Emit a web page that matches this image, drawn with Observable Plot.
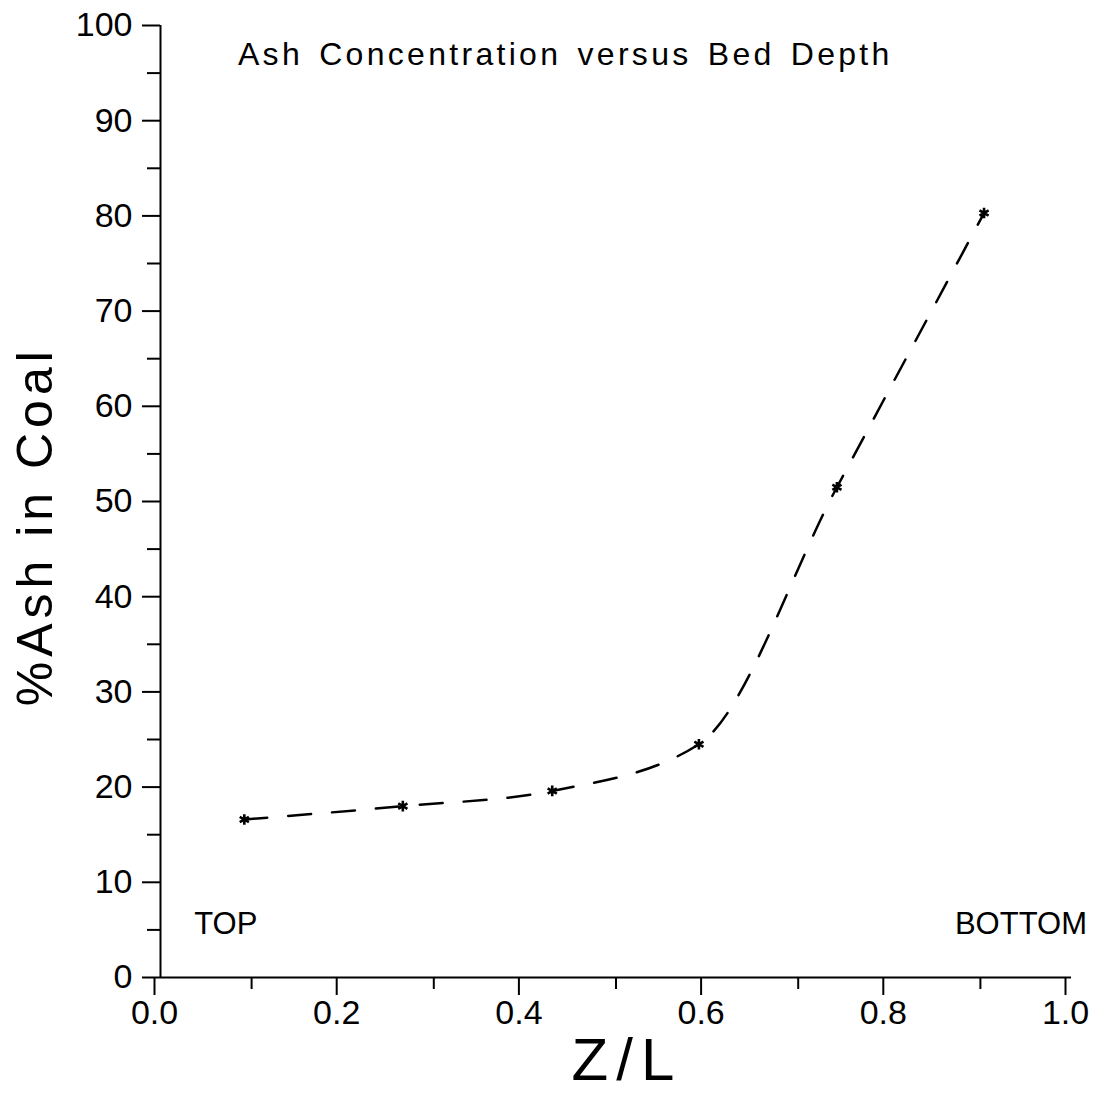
<!DOCTYPE html>
<html><head><meta charset="utf-8">
<script src="https://cdn.jsdelivr.net/npm/d3@7"></script>
<script src="https://cdn.jsdelivr.net/npm/@observablehq/plot@0.6"></script>
<style>
body{margin:0;background:#fff}
svg{font-family:"Liberation Sans",Arial,sans-serif}
</style>
</head><body><div id="chart"></div>
<script>
// Data
const zL = [0.092, 0.266, 0.430, 0.591, 0.7425, 0.904];
const ashPct = [16.6, 18.0, 19.6, 24.5, 51.5, 80.3];
// Ticks
const xTicks = [0, 0.2, 0.4, 0.6, 0.8, 1.0];
const xMinor = [0.1, 0.3, 0.5, 0.7, 0.9];
const yTicks = [0, 10, 20, 30, 40, 50, 60, 70, 80, 90, 100];
const yMinor = [5, 15, 25, 35, 45, 55, 65, 75, 85, 95];
// Texts
const titleText = "Ash Concentration versus Bed Depth";
const xLabel = "Z/L";
const yLabel = "%Ash in Coal";
const leftNote = "TOP";
const rightNote = "BOTTOM";

const points = zL.map((x, i) => ({x, y: ashPct[i]}));

const chart = Plot.plot({
  width: 1097,
  height: 1097,
  marginLeft: 160,
  marginRight: 26,
  marginTop: 25,
  marginBottom: 120,
  x: {domain: [0, 1]},
  y: {domain: [0, 100]},
  style: {background: "#fff", color: "#000"},
  marks: [
    Plot.axisY(yTicks, {tickSize: 18, tickPadding: 10, fontSize: 34, strokeWidth: 2, label: null}),
    Plot.axisY(yMinor, {tickSize: 13, tickFormat: () => "", strokeWidth: 2, label: null}),
    Plot.axisX(xTicks, {tickSize: 18, tickPadding: 4, fontSize: 34, strokeWidth: 2, dx: -6,
      tickFormat: d => d.toFixed(1), label: null}),
    Plot.axisX(xMinor, {tickSize: 12, tickFormat: () => "", strokeWidth: 2, label: null}),
    Plot.ruleX([0], {y1: 0, y2: 100, strokeWidth: 2}),
    Plot.ruleY([0], {x1: 0, x2: 1, strokeWidth: 2}),
    Plot.line(points, {x: "x", y: "y", curve: "monotone-x", stroke: "#000", strokeWidth: 2.5,
      strokeDasharray: "23,21"}),
    Plot.dot(points, {x: "x", y: "y", symbol: "asterisk", r: 5, stroke: "#000", strokeWidth: 2.6}),
    Plot.text([titleText], {x: 0.085, y: 95.9, text: d => d, textAnchor: "start", lineAnchor: "bottom",
      fontSize: 32}),
    Plot.text([leftNote], {x: 0.037, y: 4.6, text: d => d, textAnchor: "start", lineAnchor: "bottom",
      fontSize: 31}),
    Plot.text([rightNote], {x: 1.017, y: 4.6, text: d => d, textAnchor: "end", lineAnchor: "bottom",
      fontSize: 31}),
    Plot.text([xLabel], {x: 0.512, frameAnchor: "bottom", dy: 102, text: d => d, textAnchor: "middle",
      lineAnchor: "bottom", fontSize: 60, fontWeight: 300}),
    Plot.text([yLabel], {y: 47.4, frameAnchor: "left", dx: -125, rotate: -90, text: d => d,
      textAnchor: "middle", lineAnchor: "middle", fontSize: 50, fontWeight: 300})
  ]
});
// letter spacing tweaks for labels
d3.select(chart).selectAll("text").each(function() {
  const t = this.textContent;
  if (t === "Z/L") this.setAttribute("letter-spacing", "8");
  if (t === "%Ash in Coal") this.setAttribute("letter-spacing", "5");
  if (t === titleText) { this.setAttribute("letter-spacing", "3.3"); this.setAttribute("word-spacing", "4"); }
});
document.getElementById("chart").appendChild(chart);
</script>
</body></html>
